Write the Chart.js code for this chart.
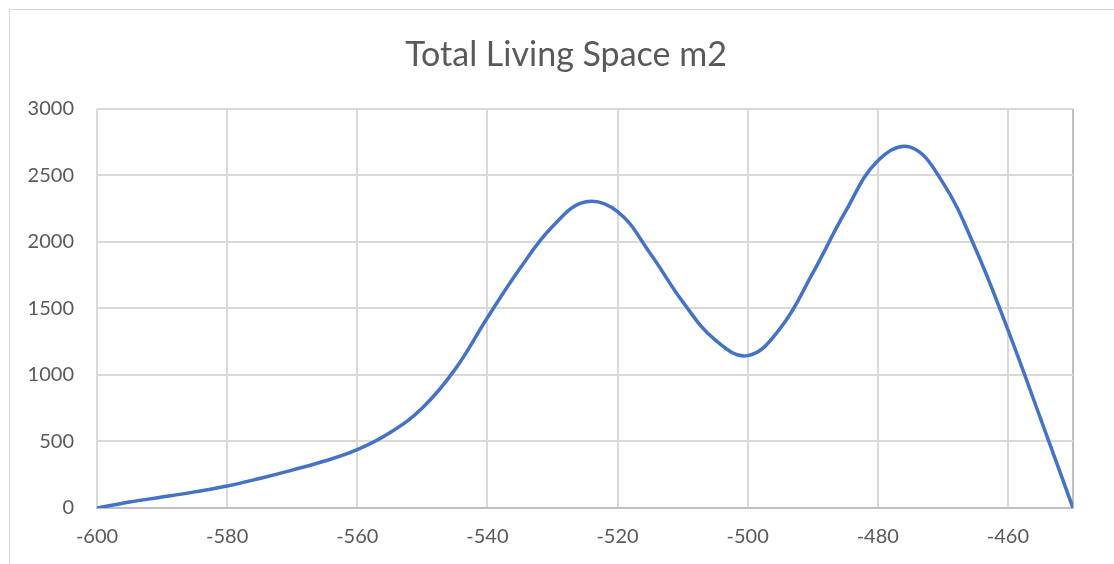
<!DOCTYPE html>
<html>
<head>
<meta charset="utf-8">
<script src="https://cdn.jsdelivr.net/npm/chart.js@4"></script>
<style>
  html, body { margin: 0; padding: 0; background: #fff; overflow: hidden; }
  #frame { position: absolute; left: 9px; top: 9px; width: 1200px; height: 600px; border: 1px solid #d9d9d9; }
  #wrap { position: absolute; left: 0; top: 0; width: 1132px; height: 564px; }
</style>
</head>
<body>
<div id="frame"></div>
<div id="wrap"><canvas id="living"></canvas></div>
<script>
const xValues = [-600, -595, -590, -585, -580, -575, -570, -565, -560, -555,
                 -550, -545, -540, -535, -530, -525, -520, -515, -510, -505,
                 -500, -495, -490, -485, -480, -475, -470, -465, -460, -455, -450];
const livingSpace = [0, 45, 82, 121, 165, 222, 285, 353, 438, 565,
                     752, 1040, 1430, 1800, 2115, 2300, 2228, 1915, 1551, 1263,
                     1145, 1350, 1765, 2225, 2610, 2712, 2445, 1950, 1338, 674, 0];
const xTicks = [-600, -580, -560, -540, -520, -500, -480, -460];
const yTicks = [0, 500, 1000, 1500, 2000, 2500, 3000];

const textColor = '#595959';
const gridColor = '#d9d9d9';
const axisColor = '#bfbfbf';

const points = xValues.map((x, i) => ({ x: x, y: livingSpace[i] }));

new Chart(document.getElementById('living'), {
    type: 'scatter',
    data: {
        datasets: [{
            label: 'Total Living Space m2',
            data: points,
            showLine: true,
            borderColor: '#4472c4',
            backgroundColor: '#4472c4',
            borderWidth: 3.5,
            pointRadius: 0,
            tension: 0.4
        }]
    },
    options: {
        responsive: true,
        maintainAspectRatio: false,
        animation: false,
        layout: { padding: 0 },
        plugins: {
            legend: { display: false },
            tooltip: { enabled: false },
            title: {
                display: true,
                text: 'Total Living Space m2',
                color: textColor,
                font: { family: 'Lato', size: 34, weight: 'normal' },
                padding: { top: 35, bottom: 33 }
            }
        },
        scales: {
            x: {
                type: 'linear',
                min: -600,
                max: -450,
                afterBuildTicks: scale => {
                    scale.ticks = xTicks.concat([-450]).map(v => ({ value: v }));
                },
                ticks: {
                    color: textColor,
                    font: { family: 'Lato', size: 20 },
                    padding: 17,
                    maxRotation: 0,
                    callback: v => (xTicks.includes(v) ? String(v) : '')
                },
                grid: {
                    drawTicks: false,
                    lineWidth: 2,
                    color: ctx => (ctx.tick && ctx.tick.value === -450 ? axisColor : gridColor)
                },
                border: { display: true, color: axisColor, width: 2 },
                afterFit: scale => { scale.height = 56; }
            },
            y: {
                min: 0,
                max: 3000,
                afterBuildTicks: scale => {
                    scale.ticks = yTicks.map(v => ({ value: v }));
                },
                ticks: {
                    color: textColor,
                    font: { family: 'Lato', size: 20 },
                    padding: 23,
                    callback: v => String(v)
                },
                grid: { drawTicks: false, lineWidth: 2, color: gridColor },
                border: { display: false },
                afterFit: scale => { scale.width = 97; }
            },
            // empty right-hand strip so the title stays centred on the whole canvas
            spacer: {
                position: 'right',
                min: 0,
                max: 3000,
                ticks: { display: false },
                grid: { display: false },
                border: { display: false },
                afterFit: scale => { scale.width = 59; }
            }
        }
    }
});
</script>
</body>
</html>
